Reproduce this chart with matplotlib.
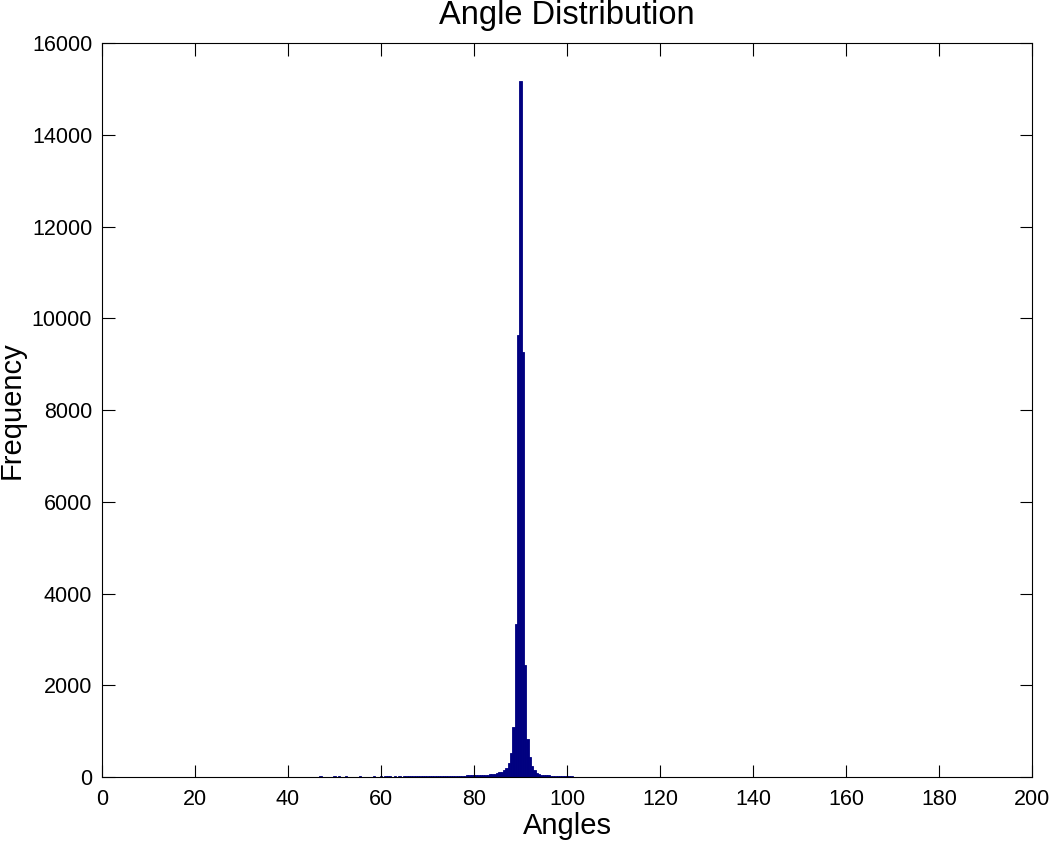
import matplotlib.pyplot as plt
import numpy as np

plt.rcParams['font.family'] = ['Liberation Sans', 'DejaVu Sans']

# histogram bin centres (0.5 degree bins) and counts
angles = [47, 50, 51, 52.5, 55.5, 58.5, 60, 61, 61.5, 62, 63, 64, 65, 65.5,
          66, 66.5, 67, 67.5, 68, 68.5, 69, 69.5, 70, 70.5, 71, 71.5, 72, 72.5,
          73, 73.5, 74, 74.5, 75, 75.5, 76, 76.5, 77, 77.5, 78, 78.5, 79, 79.5,
          80, 80.5, 81, 81.5, 82, 82.5, 83, 83.5, 84, 84.5, 85, 85.5, 86, 86.5,
          87, 87.5, 88, 88.5, 89, 89.5, 90, 90.5, 91, 91.5, 92, 92.5, 93, 93.5,
          94, 94.5, 95, 95.5, 96, 96.5, 97, 97.5, 98, 98.5, 99, 99.5, 100, 100.5,
          101, 101.5, 102, 103, 103.5, 104.5, 105, 106, 107, 108, 109, 110, 111,
          112, 115.5]
counts = [15, 15, 15, 15, 15, 15, 15, 12, 15, 12, 15, 15, 15, 12,
          15, 15, 16, 15, 18, 16, 18, 18, 18, 20, 20, 20, 22, 22,
          22, 22, 25, 25, 25, 28, 28, 30, 30, 32, 32, 35, 35, 38,
          40, 40, 42, 45, 48, 50, 50, 55, 65, 75, 85, 100, 116, 150,
          190, 300, 530, 1096, 3335, 9634, 15170, 9263, 2441, 821, 443, 240, 153, 80,
          60, 50, 45, 40, 35, 30, 28, 25, 22, 20, 18, 15, 15, 12,
          12, 10, 10, 10, 8, 10, 8, 10, 8, 10, 8, 10, 8,
          8, 8]

fig = plt.figure(figsize=(10.5, 8.42), dpi=100)
ax = fig.add_axes([0.0971, 0.0772, 0.8858, 0.8717])
ax.bar(angles, counts, width=0.5, color='#000080', edgecolor='#000080',
       linewidth=0.6, align='center')

ax.set_xlim(0, 200)
ax.set_ylim(0, 16000)
ax.set_xticks(np.arange(0, 201, 20))
ax.set_yticks(np.arange(0, 16001, 2000))
ax.tick_params(direction='in', length=9, top=True, right=True, labelsize=15.5,
               width=0.8)
ax.tick_params(axis='x', pad=9)
ax.tick_params(axis='y', pad=7)
for s in ax.spines.values():
    s.set_linewidth(0.8)

ax.text(0.5, 1.038, 'Angle Distribution', fontsize=23.5, ha='center',
        va='center', transform=ax.transAxes)
ax.text(0.5, -0.0668, 'Angles', fontsize=21, ha='center', va='center',
        transform=ax.transAxes)
ax.text(-0.0968, 0.5, 'Frequency', fontsize=21, ha='center', va='center',
        rotation=90, transform=ax.transAxes)

plt.savefig('out.png', dpi=100)
